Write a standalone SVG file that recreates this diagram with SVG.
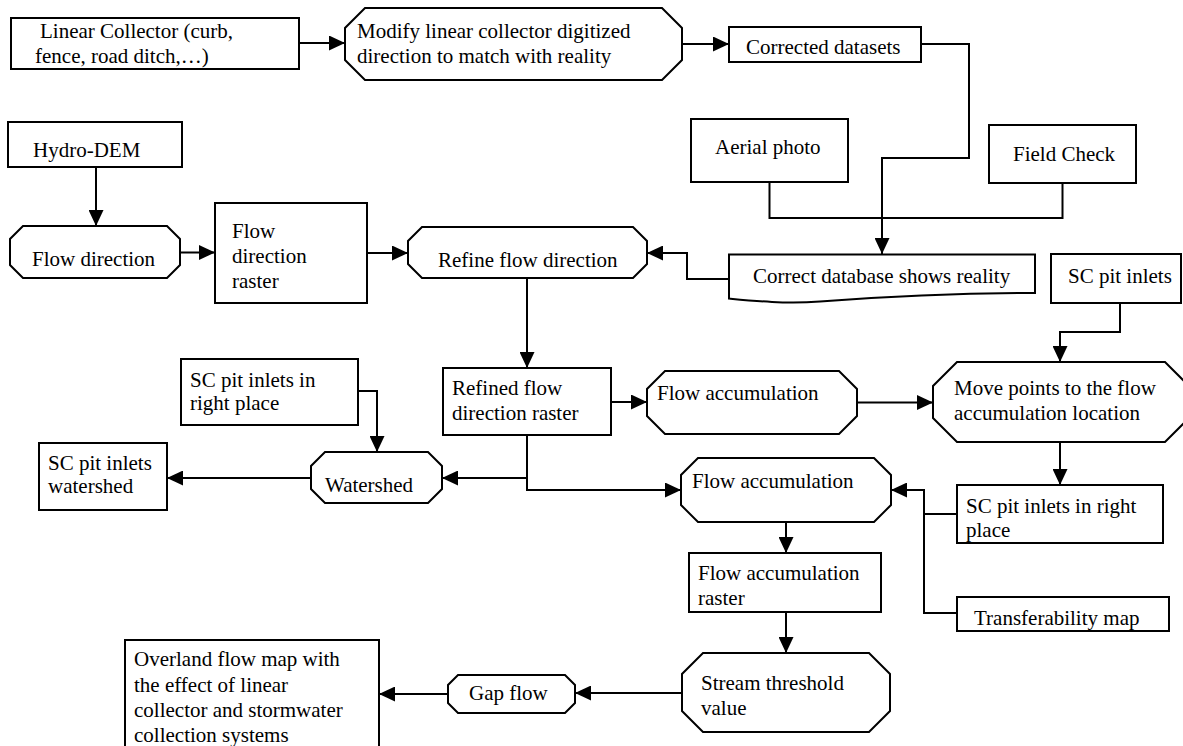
<svg xmlns="http://www.w3.org/2000/svg" width="1183" height="746" viewBox="0 0 1183 746">
<defs>
<marker id="ah" markerUnits="userSpaceOnUse" markerWidth="16" markerHeight="15" refX="16" refY="7.5" orient="auto">
<path d="M0,0 L16,7.5 L0,15 z" fill="#000"/>
</marker>
<style>
.n{fill:#fff;stroke:#000;stroke-width:2}
.t{font-family:"Liberation Serif","Times New Roman",serif;font-size:21px;fill:#000}
.c{fill:none;stroke:#000;stroke-width:2}
</style>
</defs>
<rect width="1183" height="746" fill="#fff"/>
<g id="connectors">
<path class="c" d="M299,43 H345" marker-end="url(#ah)"/>
<path class="c" d="M682,44 H729" marker-end="url(#ah)"/>
<path class="c" d="M921,44 H969 V158 H882 V254" marker-end="url(#ah)"/>
<path class="c" d="M769.5,182 V218 H1062.5 V183"/>
<path class="c" d="M96,167 V226" marker-end="url(#ah)"/>
<path class="c" d="M180,252.5 H215" marker-end="url(#ah)"/>
<path class="c" d="M367,253 H408" marker-end="url(#ah)"/>
<path class="c" d="M729,279 H687 V253 H647" marker-end="url(#ah)"/>
<path class="c" d="M527,278 V368" marker-end="url(#ah)"/>
<path class="c" d="M611,402 H647" marker-end="url(#ah)"/>
<path class="c" d="M857,402.5 H933" marker-end="url(#ah)"/>
<path class="c" d="M1120,303 V332 H1060 V362" marker-end="url(#ah)"/>
<path class="c" d="M1060,442 V485" marker-end="url(#ah)"/>
<path class="c" d="M527,435 V478 H442" marker-end="url(#ah)"/>
<path class="c" d="M527,478 V490 H681" marker-end="url(#ah)"/>
<path class="c" d="M358,391 H377 V452" marker-end="url(#ah)"/>
<path class="c" d="M311,478 H167" marker-end="url(#ah)"/>
<path class="c" d="M957,514 H924"/>
<path class="c" d="M957,613 H924 V490 H891" marker-end="url(#ah)"/>
<path class="c" d="M786,522 V553" marker-end="url(#ah)"/>
<path class="c" d="M786,612 V653" marker-end="url(#ah)"/>
<path class="c" d="M682,693 H575" marker-end="url(#ah)"/>
<path class="c" d="M448,694 H379" marker-end="url(#ah)"/>
</g>
<g id="linear-collector">
<rect class="n" x="11" y="18" width="288" height="51"/>
<text class="t" x="40" y="38">Linear Collector (curb,</text>
<text class="t" x="35" y="63">fence, road ditch,…)</text>
</g>
<g id="modify">
<polygon class="n" points="365,8 662,8 682,28 682,60 662,80 365,80 345,60 345,28"/>
<text class="t" x="357" y="38">Modify linear collector digitized</text>
<text class="t" x="357" y="63">direction to match with reality</text>
</g>
<g id="corrected-datasets">
<rect class="n" x="729" y="27" width="192" height="35"/>
<text class="t" x="746" y="54">Corrected datasets</text>
</g>
<g id="aerial-photo">
<rect class="n" x="691" y="119" width="157" height="63"/>
<text class="t" x="715" y="154">Aerial photo</text>
</g>
<g id="field-check">
<rect class="n" x="989" y="125" width="147" height="58"/>
<text class="t" x="1013" y="161">Field Check</text>
</g>
<g id="hydro-dem">
<rect class="n" x="8" y="122" width="174" height="45"/>
<text class="t" x="33" y="157">Hydro-DEM</text>
</g>
<g id="flow-direction">
<polygon class="n" points="23,226 167,226 180,239 180,265 167,278 23,278 10,265 10,239"/>
<text class="t" x="32" y="266">Flow direction</text>
</g>
<g id="flow-direction-raster">
<rect class="n" x="215" y="203" width="152" height="100"/>
<text class="t" x="232" y="238">Flow</text>
<text class="t" x="232" y="263">direction</text>
<text class="t" x="232" y="288">raster</text>
</g>
<g id="refine-flow-direction">
<polygon class="n" points="422,227 633,227 647,241 647,264 633,278 422,278 408,264 408,241"/>
<text class="t" x="438" y="267">Refine flow direction</text>
</g>
<g id="correct-database">
<path class="n" d="M729,254.5 H1035 V293 C960,293 880,297 820,301.5 C785,304 755,301 729,298.5 Z"/>
<text class="t" x="753" y="283">Correct database shows reality</text>
</g>
<g id="sc-pit-inlets">
<rect class="n" x="1051" y="254" width="130" height="49"/>
<text class="t" x="1068" y="283">SC pit inlets</text>
</g>
<g id="refined-raster">
<rect class="n" x="443" y="368" width="168" height="67"/>
<text class="t" x="452" y="395">Refined flow</text>
<text class="t" x="452" y="420">direction raster</text>
</g>
<g id="flow-accumulation-1">
<polygon class="n" points="665,371 839,371 857,389 857,416 839,434 665,434 647,416 647,389"/>
<text class="t" x="657" y="400">Flow accumulation</text>
</g>
<g id="move-points">
<polygon class="n" points="957,362 1165,362 1189,386 1189,418 1165,442 957,442 933,418 933,386"/>
<text class="t" x="954" y="395">Move points to the flow</text>
<text class="t" x="954" y="420">accumulation location</text>
</g>
<g id="sc-pit-inlets-right-place-left">
<rect class="n" x="181" y="359" width="177" height="66"/>
<text class="t" x="190" y="387">SC pit inlets in</text>
<text class="t" x="190" y="410">right place</text>
</g>
<g id="watershed">
<polygon class="n" points="325,452 428,452 442,466 442,489 428,503 325,503 311,489 311,466"/>
<text class="t" x="325" y="492">Watershed</text>
</g>
<g id="sc-pit-inlets-watershed">
<rect class="n" x="39" y="443" width="128" height="67"/>
<text class="t" x="48" y="470">SC pit inlets</text>
<text class="t" x="48" y="493">watershed</text>
</g>
<g id="flow-accumulation-2">
<polygon class="n" points="698,458 874,458 891,475 891,505 874,522 698,522 681,505 681,475"/>
<text class="t" x="692" y="488">Flow accumulation</text>
</g>
<g id="sc-pit-inlets-right-place-right">
<rect class="n" x="957" y="485" width="206" height="58"/>
<text class="t" x="966" y="513">SC pit inlets in right</text>
<text class="t" x="966" y="537">place</text>
</g>
<g id="transferability-map">
<rect class="n" x="957" y="597" width="212" height="34"/>
<text class="t" x="974" y="625">Transferability map</text>
</g>
<g id="flow-accumulation-raster">
<rect class="n" x="689" y="553" width="192" height="59"/>
<text class="t" x="698" y="580">Flow accumulation</text>
<text class="t" x="698" y="605">raster</text>
</g>
<g id="stream-threshold">
<polygon class="n" points="703,653 869,653 890,674 890,711 869,732 703,732 682,711 682,674"/>
<text class="t" x="701" y="690">Stream threshold</text>
<text class="t" x="701" y="715">value</text>
</g>
<g id="gap-flow">
<polygon class="n" points="458,675 565,675 575,685 575,703 565,713 458,713 448,703 448,685"/>
<text class="t" x="469" y="700">Gap flow</text>
</g>
<g id="overland-flow-map">
<rect class="n" x="125" y="640" width="254" height="130"/>
<text class="t" x="134" y="666">Overland flow map with</text>
<text class="t" x="134" y="692">the effect of linear</text>
<text class="t" x="134" y="717">collector and stormwater</text>
<text class="t" x="134" y="742">collection systems</text>
</g>
</svg>
